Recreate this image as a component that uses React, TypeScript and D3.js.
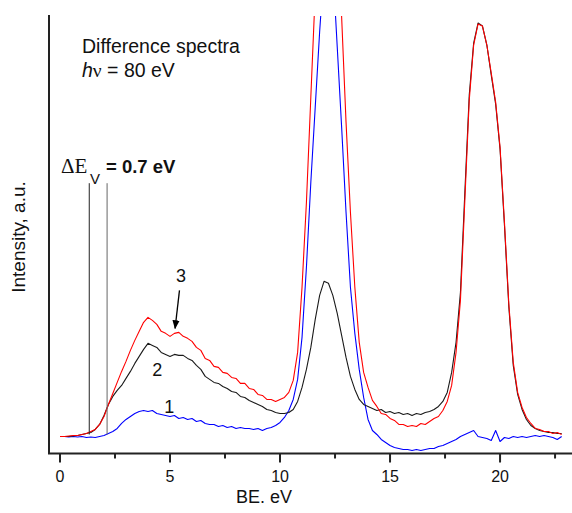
import React from "react";
import * as d3 from "d3";

// Binding energy grid (eV): start and step
const energyStart = 0;
const energyStep = 0.2;

// Spectrum 1 (blue)
const spectrum1 = [
  1, 1, 0.5, 1, 0.5, 1, 0, 0.5, 0, 1,
  2, 4, 6, 9, 14, 18, 21, 24, 26, 27,
  26, 27, 24, 23, 22, 21, 22, 19, 20, 18,
  19, 16, 17, 14, 13, 13, 11, 12, 10, 11,
  9, 10, 9, 9, 8, 9, 7, 9, 10, 12,
  15, 20, 27, 38, 58, 100, 170, 255, 330, 405,
  470, 500, 470, 390, 310, 225, 150, 104, 68, 40,
  18, 7, 3, -2, -5, -8, -10, -11, -12, -12,
  -13, -12, -13, -12, -11, -11, -9, -8, -6, -4,
  -2, 1, 3, 5, 7, 1, 0, -1, -3, 7,
  -4, 0, -1, 1, 0, 1, 0, 1, 2, 1,
  2, 1, 0, -2, 1,
];

// Spectrum 2 (black)
const spectrum2 = [
  1, 1, 1, 1.5, 2, 3, 4, 5, 8, 13,
  22, 33, 41, 47, 52, 59, 66, 74, 81, 88,
  94, 92, 90, 85, 83, 81, 83, 82, 82, 79,
  77, 72, 68, 61, 58, 55, 54, 51, 49, 46,
  45, 41, 40, 37, 35, 33, 31, 28, 27, 25,
  24, 24, 25, 28, 36, 50, 68, 90, 118, 142,
  156, 154, 142, 124, 102, 80, 61, 48, 38, 33,
  31, 29, 27, 28, 25, 26, 24, 25, 23, 24,
  22, 24, 23, 25, 26, 28, 31, 36, 45, 65,
  95, 145, 245, 342, 394, 414, 411, 392, 362, 333,
  288, 212, 130, 72, 43, 28, 18, 12, 9, 7,
  6, 5, 5, 4, 4,
];

// Spectrum 3 (red)
const spectrum3 = [
  1, 1, 1.5, 2, 2, 3, 4, 6, 8, 13,
  21, 33, 44, 55, 66, 76, 87, 97, 106, 115,
  120, 117, 113, 106, 104, 101, 104, 105, 101, 99,
  96, 90, 87, 79, 77, 71, 70, 65, 64, 60,
  59, 54, 54, 49, 48, 43, 42, 38, 38, 36,
  38, 40, 45, 57, 85, 150, 235, 340, 445, 590,
  720, 770, 700, 560, 420, 315, 225, 150, 95, 65,
  50, 37, 31, 24, 23, 19, 17, 13, 13, 11,
  12, 11, 14, 13, 16, 19, 21, 27, 36, 52,
  85, 137, 237, 337, 392, 413, 411, 392, 364, 335,
  290, 215, 133, 75, 45, 30, 20, 14, 9, 8,
  6, 6, 4, 5, 3,
];

const majorTicks = [0, 5, 10, 15, 20];
const minorTicks = [2.5, 7.5, 12.5, 17.5, 22.5];

// Annotation values
const gapEdges = [1.33, 2.14];
const gapLabel = "= 0.7 eV";

const W = 572;
const H = 513;
const LEFT = 49;
const RIGHT = 572;
const TOP = 15;
const BOTTOM = 453.5;

export default function App() {
  const x = d3.scaleLinear().domain([-0.5, 23.27]).range([LEFT, RIGHT]);
  const y = d3.scaleLinear().domain([-16, 422]).range([BOTTOM, TOP]);

  const toPts = (arr: number[]) =>
    arr.map((v, i) => [energyStart + i * energyStep, v] as [number, number]);

  const line = d3
    .line<[number, number]>()
    .x((d) => x(d[0]))
    .y((d) => y(d[1]))
    .curve(d3.curveLinear);

  const series = [
    { data: spectrum1, color: "#0000ff" },
    { data: spectrum2, color: "#1a1a1a" },
    { data: spectrum3, color: "#ff0000" },
  ];

  const sans = "'Liberation Sans', Arial, sans-serif";
  const serif = "'Liberation Serif', 'Times New Roman', serif";

  return (
    <svg
      width={W}
      height={H}
      style={{ position: "absolute", left: 0, top: 0, background: "#fff" }}
    >
      <defs>
        <clipPath id="plotclip">
          <rect x={LEFT} y={TOP + 1} width={RIGHT - LEFT} height={BOTTOM - TOP} />
        </clipPath>
        <marker
          id="arrowhead"
          viewBox="0 0 10 10"
          refX="9"
          refY="5"
          markerWidth="9"
          markerHeight="9"
          orient="auto"
          markerUnits="userSpaceOnUse"
        >
          <path d="M0,1 L10,5 L0,9 Z" fill="#000" />
        </marker>
      </defs>

      <g clipPath="url(#plotclip)">
        {series.map((s, i) => (
          <path
            key={i}
            d={line(toPts(s.data)) || ""}
            fill="none"
            stroke={s.color}
            strokeWidth={1.1}
            strokeLinejoin="round"
          />
        ))}
      </g>

      {/* gap lines */}
      <line x1={x(gapEdges[0])} x2={x(gapEdges[0])} y1={y(254)} y2={y(3)} stroke="#222" strokeWidth={1} />
      <line x1={x(gapEdges[1])} x2={x(gapEdges[1])} y1={y(254)} y2={y(3)} stroke="#666" strokeWidth={1} />

      {/* axes */}
      <line x1={LEFT} x2={LEFT} y1={TOP} y2={BOTTOM} stroke="#222" strokeWidth={2} />
      <line x1={LEFT - 1} x2={RIGHT} y1={BOTTOM} y2={BOTTOM} stroke="#222" strokeWidth={2} />
      {majorTicks.map((t) => (
        <g key={"M" + t}>
          <line x1={x(t)} x2={x(t)} y1={BOTTOM} y2={BOTTOM + 9} stroke="#222" strokeWidth={2} />
          <text x={x(t)} y={BOTTOM + 28} textAnchor="middle" fontFamily={sans} fontSize={16} fill="#111">
            {t}
          </text>
        </g>
      ))}
      {minorTicks.map((t) => (
        <line key={"m" + t} x1={x(t)} x2={x(t)} y1={BOTTOM} y2={BOTTOM + 5} stroke="#222" strokeWidth={2} />
      ))}

      <text x={264} y={503} textAnchor="middle" fontFamily={sans} fontSize={18} fill="#111">
        BE. eV
      </text>
      <text
        transform={`translate(25,237) rotate(-90)`}
        textAnchor="middle"
        fontFamily={sans}
        fontSize={19}
        fill="#111"
      >
        Intensity, a.u.
      </text>

      {/* header */}
      <text x={82} y={53} fontFamily={sans} fontSize={19.5} fill="#111">
        Difference spectra
      </text>
      <text x={82} y={77} fontFamily={sans} fontSize={19.5} fill="#111">
        <tspan fontStyle="italic">h</tspan>
        <tspan fontFamily={serif}>ν</tspan>
        <tspan> = 80 eV</tspan>
      </text>

      {/* gap label */}
      <text x={61} y={173} fontFamily={serif} fontSize={21} fill="#111">
        ΔE
      </text>
      <text x={90} y={184} fontFamily={sans} fontSize={15} fill="#111">
        V
      </text>
      <text x={106} y={173} fontFamily={sans} fontSize={18.5} fontWeight="bold" fill="#111">
        {gapLabel}
      </text>

      {/* curve labels */}
      <text x={x(5.5)} y={y(155)} textAnchor="middle" fontFamily={sans} fontSize={18} fill="#111">
        3
      </text>
      <line
        x1={x(5.43)}
        y1={y(147)}
        x2={x(5.23)}
        y2={y(109)}
        stroke="#000"
        strokeWidth={1.3}
        markerEnd="url(#arrowhead)"
      />
      <text x={x(4.42)} y={y(61)} textAnchor="middle" fontFamily={sans} fontSize={18} fill="#111">
        2
      </text>
      <text x={x(4.97)} y={y(24)} textAnchor="middle" fontFamily={sans} fontSize={18} fill="#111">
        1
      </text>
    </svg>
  );
}
